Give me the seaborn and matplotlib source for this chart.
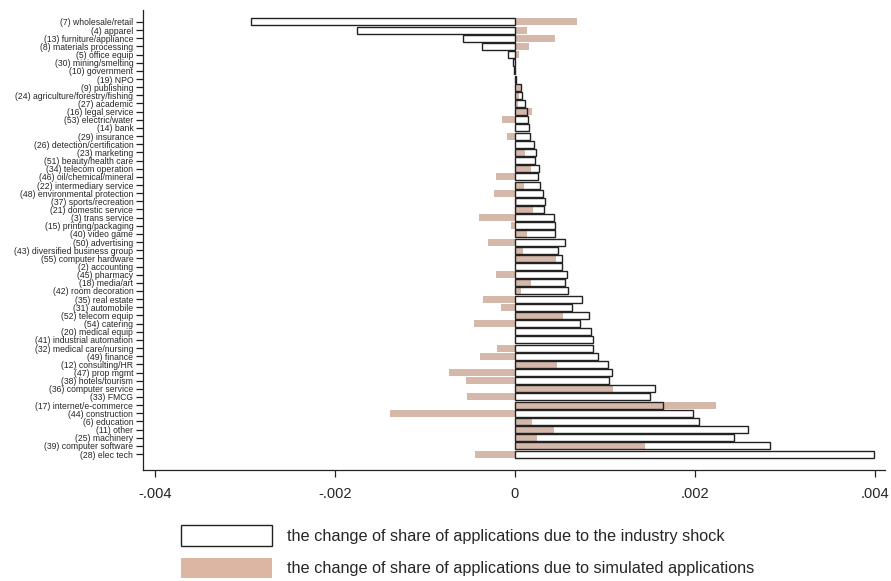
import numpy as np
import pandas as pd
import matplotlib
matplotlib.use("Agg")
import matplotlib.pyplot as plt
from matplotlib.patches import Patch
import seaborn as sns

industries = [
    "(7) wholesale/retail", "(4) apparel", "(13) furniture/appliance", "(8) materials processing",
    "(5) office equip", "(30) mining/smelting", "(10) government", "(19) NPO", "(9) publishing",
    "(24) agriculture/forestry/fishing", "(27) academic", "(16) legal service", "(53) electric/water",
    "(14) bank", "(29) insurance", "(26) detection/certification", "(23) marketing",
    "(51) beauty/health care", "(34) telecom operation", "(46) oil/chemical/mineral",
    "(22) intermediary service", "(48) environmental protection", "(37) sports/recreation",
    "(21) domestic service", "(3) trans service", "(15) printing/packaging", "(40) video game",
    "(50) advertising", "(43) diversified business group", "(55) computer hardware",
    "(2) accounting", "(45) pharmacy", "(18) media/art", "(42) room decoration", "(35) real estate",
    "(31) automobile", "(52) telecom equip", "(54) catering", "(20) medical equip",
    "(41) industrial automation", "(32) medical care/nursing", "(49) finance", "(12) consulting/HR",
    "(47) prop mgmt", "(38) hotels/tourism", "(36) computer service", "(33) FMCG",
    "(17) internet/e-commerce", "(44) construction", "(6) education", "(11) other",
    "(25) machinery", "(39) computer software", "(28) elec tech",
]

# change of share due to the industry shock (x 0.001)
shock = [
    -2.93, -1.75, -0.58, -0.37, -0.08, -0.02, -0.01, 0.01, 0.07,
    0.08, 0.11, 0.13, 0.145, 0.16, 0.17, 0.21, 0.23,
    0.22, 0.27, 0.26, 0.28, 0.31, 0.33,
    0.32, 0.43, 0.44, 0.45, 0.56, 0.48, 0.52,
    0.52, 0.58, 0.56, 0.59, 0.74, 0.63, 0.82, 0.72, 0.84,
    0.87, 0.87, 0.92, 1.03, 1.08, 1.04, 1.56, 1.50,
    1.64, 1.98, 2.04, 2.59, 2.43, 2.83, 3.99,
]

# change of share due to simulated applications (x 0.001)
simulated = [
    0.69, 0.13, 0.45, 0.16, 0.05, 0.01, 0.0, 0.0, 0.08,
    0.05, 0.03, 0.19, -0.14, 0.0, -0.09, 0.0, 0.11,
    0.0, 0.18, -0.21, 0.10, -0.23, 0.02,
    0.20, -0.40, -0.04, 0.13, -0.30, 0.09, 0.46,
    0.01, -0.21, 0.18, 0.07, -0.35, -0.15, 0.53, -0.45, 0.0,
    0.0, -0.20, -0.39, 0.47, -0.73, -0.54, 1.09, -0.53,
    2.23, -1.39, 0.19, 0.43, 0.25, 1.45, -0.44,
]

xticks = [-0.004, -0.002, 0.0, 0.002, 0.004]
xticklabels = ["-.004", "-.002", "0", ".002", ".004"]
legend_labels = [
    "the change of share of applications due to the industry shock",
    "the change of share of applications due to simulated applications",
]

df = pd.DataFrame({
    "industry": industries,
    "shock": np.array(shock) / 1000.0,
    "simulated": np.array(simulated) / 1000.0,
})

TAN = "#dcb6a3"

sns.set_theme(style="white")
plt.rcParams["font.family"] = ["Liberation Sans", "DejaVu Sans"]

fig = plt.figure(figsize=(8.91, 5.81), dpi=100)
ax = fig.add_axes([143 / 891, 1 - 470 / 581, (885 - 143) / 891, (470 - 10) / 581])

sns.barplot(data=df, x="simulated", y="industry", order=industries, color=TAN,
            width=0.86, errorbar=None, linewidth=0, ax=ax)
sns.barplot(data=df, x="shock", y="industry", order=industries, color="#222222",
            fill=False, width=0.86, errorbar=None, linewidth=1.0, ax=ax)

ax.set_xlim(-0.00413, 0.00411)
ax.set_ylim(54.96, -1.47)
ax.set_xticks(xticks)
ax.set_xticklabels(xticklabels, fontsize=10.5)
ax.tick_params(axis="y", labelsize=6.2, length=5, width=0.9, color="#222222", pad=2, left=True)
ax.tick_params(axis="x", length=5, width=0.9, color="#222222", pad=7, bottom=True)
ax.set_xlabel("")
ax.set_ylabel("")
for s in ["top", "right"]:
    ax.spines[s].set_visible(False)
for s in ["left", "bottom"]:
    ax.spines[s].set_color("#222222")
    ax.spines[s].set_linewidth(0.9)
ax.grid(False)

handles = [
    Patch(facecolor="white", edgecolor="#222222", linewidth=1.0),
    Patch(facecolor=TAN, edgecolor=TAN, linewidth=0),
]
fig.legend(handles, legend_labels, loc="upper left", bbox_to_anchor=(181 / 891, 1 - 525 / 581),
           frameon=False, fontsize=11.7, handlelength=5.6, handleheight=1.6,
           handletextpad=0.95, labelspacing=0.72, borderpad=0, borderaxespad=0)

fig.savefig("out.png", dpi=100)
